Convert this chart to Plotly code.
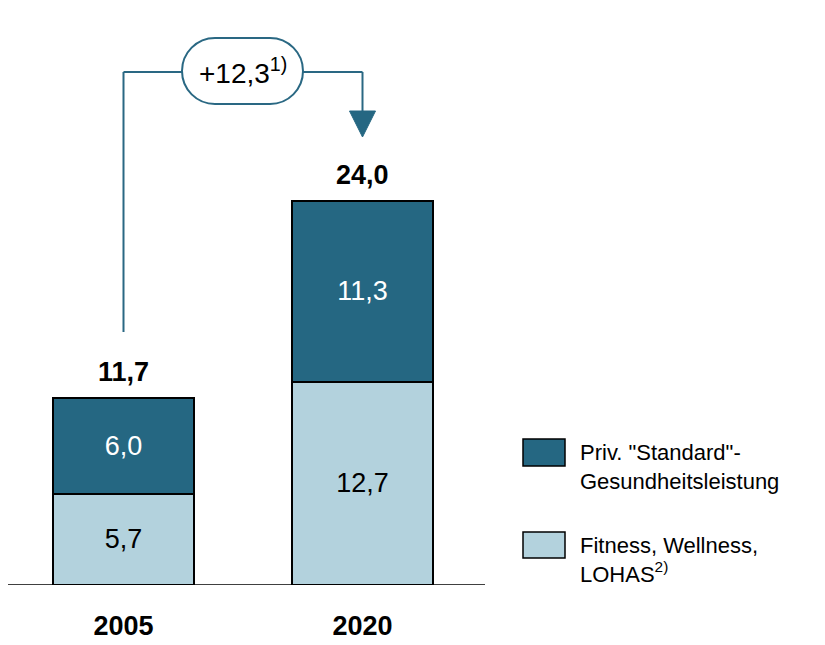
import plotly.graph_objects as go

# ---- data ----
years = ["2005", "2020"]
fitness = [5.7, 12.7]          # Fitness, Wellness, LOHAS
standard = [6.0, 11.3]         # Priv. "Standard"-Gesundheitsleistung
totals = [11.7, 24.0]
series_names = ['Priv. "Standard"-<br>Gesundheitsleistung', "Fitness, Wellness,<br>LOHAS<sup>2)</sup>"]

def fmt(v):
    return f"{v:.1f}".replace(".", ",")

DARK = "#256782"
LIGHT = "#b3d2dd"
LINE = "#2a6883"
FONT = "Liberation Sans, Arial, Helvetica, sans-serif"

OFF = 8                # page body margin
W, H = 825 - OFF, 645 - OFF
BASE_PX = 585          # baseline pixel in reference (from top)
PX_PER_UNIT = 16.0
X0_PX, STEP_PX = 123.5, 239.0

def dx(px):  # reference pixel -> x data
    return (px - X0_PX) / STEP_PX

def dy(py):  # reference pixel -> y data
    return (BASE_PX - py) / PX_PER_UNIT

fig = go.Figure()
fig.add_trace(go.Bar(
    x=years, y=fitness, name=series_names[1],
    marker=dict(color=LIGHT, line=dict(color="black", width=1.5)),
    width=0.59, text=[fmt(v) for v in fitness], textposition="inside",
    insidetextanchor="middle", textangle=0,
    textfont=dict(color="black", size=27, family=FONT), showlegend=False,
))
fig.add_trace(go.Bar(
    x=years, y=standard, name=series_names[0],
    marker=dict(color=DARK, line=dict(color="black", width=1.5)),
    width=0.59, text=[fmt(v) for v in standard], textposition="inside",
    insidetextanchor="middle", textangle=0,
    textfont=dict(color="white", size=27, family=FONT), showlegend=False,
))

annotations = []
# totals
for i, t in enumerate(totals):
    annotations.append(dict(x=i, y=t, text=f"<b>{fmt(t)}</b>", showarrow=False,
                            yanchor="bottom", yshift=9,
                            font=dict(size=27, color="black", family=FONT)))

shapes = []
# baseline
shapes.append(dict(type="line", xref="x", yref="y", x0=dx(4), x1=dx(485), y0=0, y1=0,
                   line=dict(color="black", width=1.5), layer="above"))

# connector
y_top = dy(72)
shapes.append(dict(type="line", x0=0, x1=0, y0=dy(332), y1=y_top, line=dict(color=LINE, width=2)))
shapes.append(dict(type="line", x0=0, x1=1, y0=y_top, y1=y_top, line=dict(color=LINE, width=2)))
shapes.append(dict(type="line", x0=1, x1=1, y0=y_top, y1=dy(113), line=dict(color=LINE, width=2)))
# arrow head
ah = 13 / STEP_PX
shapes.append(dict(type="path", path=f"M {1-ah},{dy(111)} L {1+ah},{dy(111)} L 1,{dy(137)} Z",
                   fillcolor=DARK, line=dict(color=DARK, width=1)))

# bubble
bx0, bx1 = dx(182), dx(303)
by0, by1 = dy(104), dy(38)
ym = (by0 + by1) / 2
ry = (by1 - by0) / 2
rx = 33 / STEP_PX
k = 0.5523
path = (f"M {bx0+rx},{by1} L {bx1-rx},{by1} "
        f"C {bx1-rx+k*rx},{by1} {bx1},{ym+k*ry} {bx1},{ym} "
        f"C {bx1},{ym-k*ry} {bx1-rx+k*rx},{by0} {bx1-rx},{by0} "
        f"L {bx0+rx},{by0} "
        f"C {bx0+rx-k*rx},{by0} {bx0},{ym-k*ry} {bx0},{ym} "
        f"C {bx0},{ym+k*ry} {bx0+rx-k*rx},{by1} {bx0+rx},{by1} Z")
shapes.append(dict(type="path", path=path, fillcolor="white", line=dict(color=LINE, width=2)))
diff = totals[1] - totals[0]
annotations.append(dict(x=(bx0 + bx1) / 2, y=ym, text=f"+{fmt(diff)}<sup>1)</sup>", showarrow=False,
                        xanchor="center", yanchor="middle",
                        font=dict(size=28, color="black", family=FONT)))

# legend (manual)
leg = [(DARK, 439, 466, series_names[0]), (LIGHT, 532, 558, series_names[1])]
for col, t, b, name in leg:
    shapes.append(dict(type="rect", x0=dx(523), x1=dx(565), y0=dy(b), y1=dy(t),
                       fillcolor=col, line=dict(color="black", width=1.5)))
    annotations.append(dict(x=dx(578), y=dy(t - 1), text=name, showarrow=False,
                            xanchor="left", yanchor="top", align="left",
                            font=dict(size=22, color="black", family=FONT)))

fig.update_layout(
    width=W, height=H, barmode="stack",
    margin=dict(l=0, r=0, t=0, b=645 - BASE_PX, pad=0),
    paper_bgcolor="white", plot_bgcolor="white",
    shapes=shapes, annotations=annotations, showlegend=False,
    xaxis=dict(range=[dx(OFF), dx(825)], showgrid=False, zeroline=False, showline=False,
               ticks="outside", ticklen=17, tickcolor="rgba(0,0,0,0)",
               tickvals=years, ticktext=[f"<b>{y}</b>" for y in years],
               tickfont=dict(size=27, color="black", family=FONT)),
    yaxis=dict(range=[0, (BASE_PX - OFF) / PX_PER_UNIT], visible=False),
    font=dict(family=FONT),
)

fig.write_html("out.html")
